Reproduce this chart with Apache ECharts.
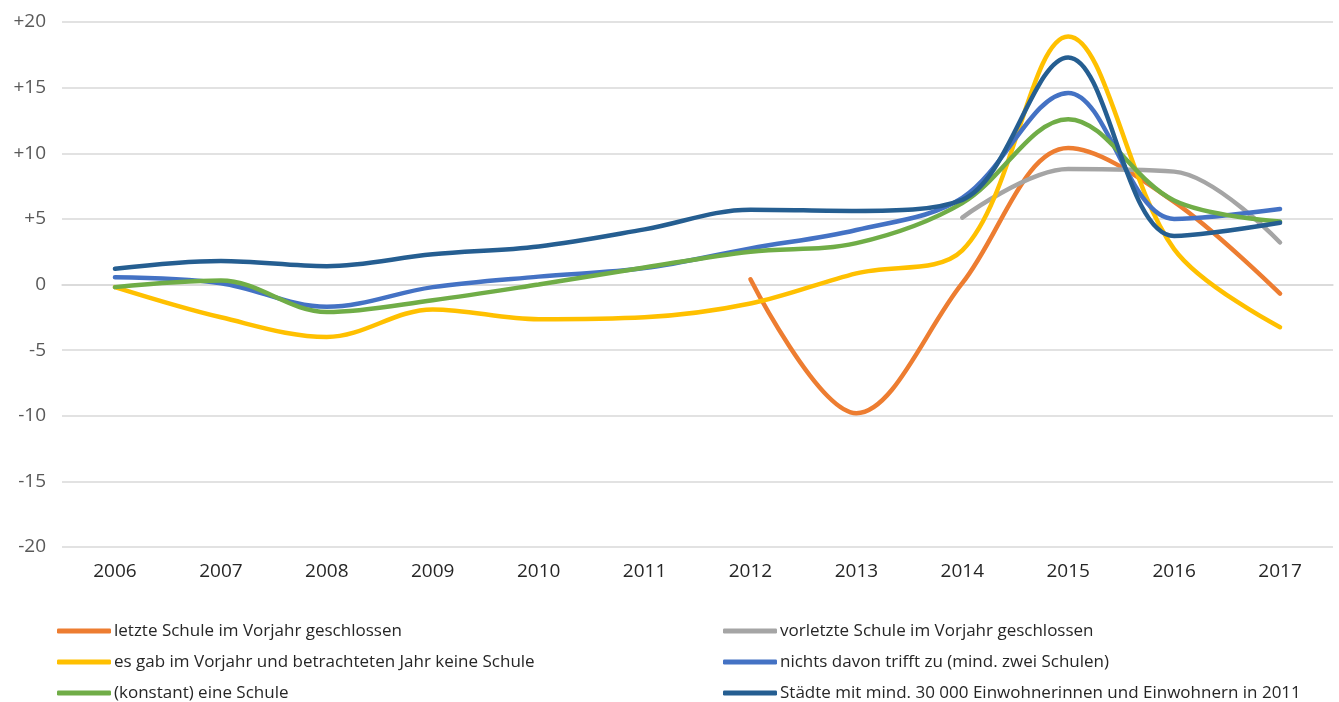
<!DOCTYPE html>
<html>
<head>
<meta charset="utf-8">
<script src="https://cdn.jsdelivr.net/npm/echarts@6/dist/echarts.min.js"></script>
<style>
  html, body { margin: 0; padding: 0; background: #fff; }
  #chart { width: 1339px; height: 702px; }
</style>
</head>
<body>
<div id="chart"></div>
<script>
  // Jahre
  const years = ['2006', '2007', '2008', '2009', '2010', '2011', '2012', '2013', '2014', '2015', '2016', '2017']

  const seriesNames = [
    'letzte Schule im Vorjahr geschlossen',
    'vorletzte Schule im Vorjahr geschlossen',
    'es gab im Vorjahr und betrachteten Jahr keine Schule',
    'nichts davon trifft zu (mind. zwei Schulen)',
    '(konstant) eine Schule',
    'Städte mit mind. 30 000 Einwohnerinnen und Einwohnern in 2011'
  ]

  const letzteSchule = [null, null, null, null, null, null, 0.4, -9.8, 0.1, 10.4, 6.3, -0.7]
  const vorletzteSchule = [null, null, null, null, null, null, null, null, 5.1, 8.8, 8.6, 3.2]
  const keineSchule = [-0.2, -2.5, -4.0, -1.9, -2.65, -2.5, -1.45, 0.85, 2.6, 18.9, 2.7, -3.25]
  const nichtsDavon = [0.55, 0.1, -1.7, -0.2, 0.6, 1.25, 2.75, 4.15, 6.6, 14.6, 5.0, 5.75]
  const eineSchule = [-0.2, 0.3, -2.1, -1.2, 0.0, 1.3, 2.5, 3.15, 6.2, 12.6, 6.4, 4.8]
  const staedte = [1.2, 1.8, 1.4, 2.3, 2.9, 4.2, 5.7, 5.6, 6.45, 17.3, 3.7, 4.7]

  const colors = ['#ED7D31', '#A5A5A5', '#FFC000', '#4472C4', '#70AD47', '#255E91']
  const allData = [letzteSchule, vorletzteSchule, keineSchule, nichtsDavon, eineSchule, staedte]

  const font = 'Open Sans'

  // Legende: zwei Spalten, drei Zeilen
  const legendLeft = [57, 723]
  const legendTop = [621, 652, 683]

  let legends = seriesNames.map((name, i) => ({
    left: legendLeft[i % 2],
    top: legendTop[Math.floor(i / 2)],
    padding: 0,
    itemWidth: 54,
    itemHeight: 5,
    icon: 'roundRect',
    data: [name],
    textStyle: {
      fontFamily: font,
      fontSize: 17,
      color: '#262626',
      lineHeight: 20,
      padding: [0, 0, 0, -2]
    }
  }))

  let myChart = echarts.init(document.getElementById('chart'))
  myChart.setOption({
    animation: false,
    color: colors,
    grid: {
      left: 62,
      right: 6,
      top: 22,
      bottom: 155
    },
    legend: legends,
    xAxis: {
      type: 'category',
      data: years,
      boundaryGap: true,
      axisLine: { show: true, lineStyle: { color: '#D9D9D9', width: 1.5 } },
      axisTick: { show: false },
      axisLabel: {
        fontFamily: font,
        fontSize: 19,
        color: '#262626',
        margin: 15
      }
    },
    yAxis: {
      type: 'value',
      min: -20,
      max: 20,
      interval: 5,
      axisLine: { show: false },
      axisTick: { show: false },
      splitLine: { lineStyle: { color: '#D9D9D9', width: 1.5 } },
      axisLabel: {
        fontFamily: font,
        fontSize: 19,
        color: '#595959',
        margin: 16,
        formatter(v) {
          return v > 0 ? '+' + v : String(v)
        }
      }
    },
    series: allData.map((d, i) => ({
      name: seriesNames[i],
      type: 'line',
      data: d,
      smooth: 0.35,
      showSymbol: false,
      symbol: 'none',
      connectNulls: false,
      lineStyle: { width: 4.5, color: colors[i], cap: 'round' },
      itemStyle: { color: colors[i] },
      z: 2 + i
    }))
  })
</script>
</body>
</html>
